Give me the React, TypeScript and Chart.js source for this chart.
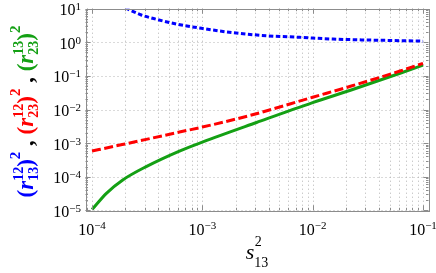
import { useEffect, useRef } from 'react';
import { Chart, registerables } from 'chart.js';

Chart.register(...registerables);

const FONT = '"Liberation Serif", "Times New Roman", serif';

// (r^12_13)^2 — blue dotted
const blueX = [2.0e-4, 2.8e-4, 3.84e-4, 5.8e-4, 9.8e-4, 1.9e-3, 3.8e-3, 7.6e-3, 1.53e-2, 3.07e-2, 6.17e-2, 1.0e-1];
const blueY = [10.5, 6.5, 4.84, 3.5, 2.61, 1.93, 1.57, 1.41, 1.25, 1.17, 1.12, 1.08];

// (r^12_23)^2 — red dashed
const redX = [1e-4, 1.55e-4, 3.1e-4, 6.2e-4, 1e-3, 2.7e-3, 1e-2, 2.2e-2, 6.2e-2, 1e-1];
const redY = [5.8e-4, 7.9e-4, 1.29e-3, 2.13e-3, 3.0e-3, 6.64e-3, 2.32e-2, 4.9e-2, 1.4e-1, 2.37e-1];

// (r^13_23)^2 — green solid
const greenX = [1e-4, 1.35e-4, 1.9e-4, 3.1e-4, 6.2e-4, 1e-3, 3.1e-3, 1e-2, 2.2e-2, 6.2e-2, 1e-1];
const greenY = [1.05e-5, 3.2e-5, 8e-5, 2.0e-4, 5.8e-4, 1.07e-3, 4.1e-3, 1.6e-2, 3.75e-2, 1.2e-1, 2.1e-1];

const xMajorExps = [-4, -3, -2, -1];
const yMajorExps = [-5, -4, -3, -2, -1, 0, 1];

const X_MIN = Math.pow(10, -4.059);
const X_MAX = Math.pow(10, -0.95);
const Y_MIN = 1e-5;
const Y_MAX = 10;

const BLUE = '#0000ff';
const RED = '#ff0000';
const GREEN = '#14a014';

const pts = (xs: number[], ys: number[]) => xs.map((x, i) => ({ x, y: ys[i] }));

const expText = (e: number) => (e < 0 ? '\u2212' + Math.abs(e) : String(e));

type Piece = { t: string; font: string; dy: number; color: string; stackWith?: { t: string; font: string; dy: number } };

function drawRich(ctx: CanvasRenderingContext2D, pieces: Piece[], startX: number, baseY: number, measureOnly = false): number {
  let x = startX;
  for (const p of pieces) {
    ctx.font = p.font;
    const w1 = ctx.measureText(p.t).width;
    let w = w1;
    if (p.stackWith) {
      ctx.font = p.stackWith.font;
      w = Math.max(w, ctx.measureText(p.stackWith.t).width);
    }
    if (!measureOnly) {
      ctx.fillStyle = p.color;
      ctx.font = p.font;
      ctx.fillText(p.t, x, baseY + p.dy);
      if (p.stackWith) {
        ctx.font = p.stackWith.font;
        ctx.fillText(p.stackWith.t, x, baseY + p.stackWith.dy);
      }
    }
    x += w;
  }
  return x - startX;
}

const decor = {
  id: 'decor',
  beforeDatasetsDraw(chart: any) {
    const { ctx, chartArea: a, scales } = chart;
    const xs = scales.x, ys = scales.y;
    ctx.save();
    ctx.strokeStyle = '#b4b4b4';
    ctx.lineWidth = 1;
    ctx.setLineDash([1, 3]);
    for (let e = -5; e <= 0; e++) {
      for (let m = 1; m <= 9; m++) {
        const v = m * Math.pow(10, e);
        if (v < X_MIN || v > X_MAX) continue;
        const px = Math.round(xs.getPixelForValue(v)) + 0.5;
        ctx.beginPath();
        ctx.moveTo(px, a.top);
        ctx.lineTo(px, a.bottom);
        ctx.stroke();
      }
    }
    for (const e of yMajorExps) {
      const py = Math.round(ys.getPixelForValue(Math.pow(10, e))) + 0.5;
      ctx.beginPath();
      ctx.moveTo(a.left, py);
      ctx.lineTo(a.right, py);
      ctx.stroke();
    }
    ctx.restore();
  },
  afterDatasetsDraw(chart: any) {
    const { ctx, chartArea: a, scales } = chart;
    const xs = scales.x, ys = scales.y;
    ctx.save();
    ctx.strokeStyle = '#8c8c8c';
    ctx.lineWidth = 1;
    ctx.setLineDash([]);
    ctx.strokeRect(Math.round(a.left) + 0.5, Math.round(a.top) + 0.5, Math.round(a.right - a.left), Math.round(a.bottom - a.top));
    for (let e = -5; e <= 0; e++) {
      for (let m = 1; m <= 9; m++) {
        const v = m * Math.pow(10, e);
        if (v < X_MIN || v > X_MAX) continue;
        const len = m === 1 ? 5 : 2.5;
        const px = Math.round(xs.getPixelForValue(v)) + 0.5;
        ctx.beginPath();
        ctx.moveTo(px, a.bottom);
        ctx.lineTo(px, a.bottom - len);
        ctx.moveTo(px, a.top);
        ctx.lineTo(px, a.top + len);
        ctx.stroke();
      }
    }
    for (let e = -5; e <= 1; e++) {
      for (let m = 1; m <= 9; m++) {
        const v = m * Math.pow(10, e);
        if (v < Y_MIN || v > Y_MAX) continue;
        const len = m === 1 ? 5 : 2.5;
        const py = Math.round(ys.getPixelForValue(v)) + 0.5;
        ctx.beginPath();
        ctx.moveTo(a.left, py);
        ctx.lineTo(a.left + len, py);
        ctx.moveTo(a.right, py);
        ctx.lineTo(a.right - len, py);
        ctx.stroke();
      }
    }
    ctx.restore();
  },
  afterDraw(chart: any) {
    const { ctx, chartArea: a, scales } = chart;
    const xs = scales.x, ys = scales.y;
    ctx.save();
    ctx.textBaseline = 'alphabetic';
    ctx.textAlign = 'left';
    ctx.fillStyle = '#000';
    const mainF = `16px ${FONT}`;
    const expF = `11px ${FONT}`;
    for (const e of xMajorExps) {
      const px = xs.getPixelForValue(Math.pow(10, e));
      ctx.font = mainF;
      const w1 = ctx.measureText('10').width;
      ctx.font = expF;
      const w2 = ctx.measureText(expText(e)).width;
      const x0 = px - (w1 + w2) / 2;
      ctx.font = mainF;
      ctx.fillText('10', x0, 235);
      ctx.font = expF;
      ctx.fillText(expText(e), x0 + w1, 229);
    }
    for (const e of yMajorExps) {
      const py = ys.getPixelForValue(Math.pow(10, e));
      ctx.font = mainF;
      const w1 = ctx.measureText('10').width;
      ctx.font = expF;
      const w2 = ctx.measureText(expText(e)).width;
      const x0 = 81 - (w1 + w2);
      ctx.font = mainF;
      ctx.fillText('10', x0, py + 6.5);
      ctx.font = expF;
      ctx.fillText(expText(e), x0 + w1, py + 1.5);
    }
    // x title: s^2_13
    const cx = (a.left + a.right) / 2;
    ctx.font = `italic 22px ${FONT}`;
    const ws = ctx.measureText('s').width;
    ctx.font = `14px ${FONT}`;
    const wsub = ctx.measureText('13').width;
    const xt0 = cx - (ws + wsub) / 2;
    ctx.font = `italic 22px ${FONT}`;
    ctx.fillText('s', xt0, 259);
    ctx.font = `14px ${FONT}`;
    ctx.fillText('2', xt0 + ws + 0.5, 246);
    ctx.fillText('13', xt0 + ws, 267);

    // y title (rotated)
    const bigB = `bold 23px ${FONT}`;
    const bigBI = `italic bold 23px ${FONT}`;
    const scr = `bold 14px ${FONT}`;
    const sq = `bold 15px ${FONT}`;
    const term = (sup: string, sub: string, color: string): Piece[] => [
      { t: '(', font: bigB, dy: 0, color },
      { t: 'r', font: bigBI, dy: 0, color },
      { t: sup, font: scr, dy: -10, color, stackWith: { t: sub, font: scr, dy: 5 } },
      { t: ')', font: bigB, dy: 0, color },
      { t: '2', font: sq, dy: -13, color },
    ];
    const comma: Piece[] = [{ t: ' , ', font: bigB, dy: 0, color: '#000' }];
    const pieces: Piece[] = [
      ...term('12', '13', BLUE),
      ...comma,
      ...term('12', '23', RED),
      ...comma,
      ...term('13', '23', GREEN),
    ];
    ctx.translate(33, (a.top + a.bottom) / 2 + 2);
    ctx.rotate(-Math.PI / 2);
    const total = drawRich(ctx, pieces, 0, 0, true);
    drawRich(ctx, pieces, -total / 2, 0);
    ctx.restore();
  },
};

export default function App() {
  const ref = useRef<HTMLCanvasElement>(null);
  useEffect(() => {
    if (!ref.current) return;
    const chart = new Chart(ref.current, {
      type: 'line',
      data: {
        datasets: [
          {
            label: '(r12_13)^2',
            data: pts(blueX, blueY),
            borderColor: BLUE,
            borderWidth: 3,
            borderDash: [4.5, 2.5],
            pointRadius: 0,
            cubicInterpolationMode: 'monotone',
            fill: false,
          },
          {
            label: '(r12_23)^2',
            data: pts(redX, redY),
            borderColor: RED,
            borderWidth: 3,
            borderDash: [9, 3.5],
            pointRadius: 0,
            cubicInterpolationMode: 'monotone',
            fill: false,
          },
          {
            label: '(r13_23)^2',
            data: pts(greenX, greenY),
            borderColor: GREEN,
            borderWidth: 3,
            pointRadius: 0,
            cubicInterpolationMode: 'monotone',
            fill: false,
          },
        ],
      },
      options: {
        responsive: false,
        animation: false,
        events: [],
        layout: { padding: { left: 85.5, right: 7.5, top: 8.7, bottom: 62.7 } },
        scales: {
          x: { type: 'logarithmic', display: false, min: X_MIN, max: X_MAX },
          y: { type: 'logarithmic', display: false, min: Y_MIN, max: Y_MAX },
        },
        plugins: { legend: { display: false }, tooltip: { enabled: false } },
      },
      plugins: [decor],
    } as any);
    return () => chart.destroy();
  }, []);
  return (
    <canvas
      ref={ref}
      width={436}
      height={273}
      style={{ position: 'absolute', left: 0, top: 0, display: 'block', width: 436, height: 273 }}
    />
  );
}
